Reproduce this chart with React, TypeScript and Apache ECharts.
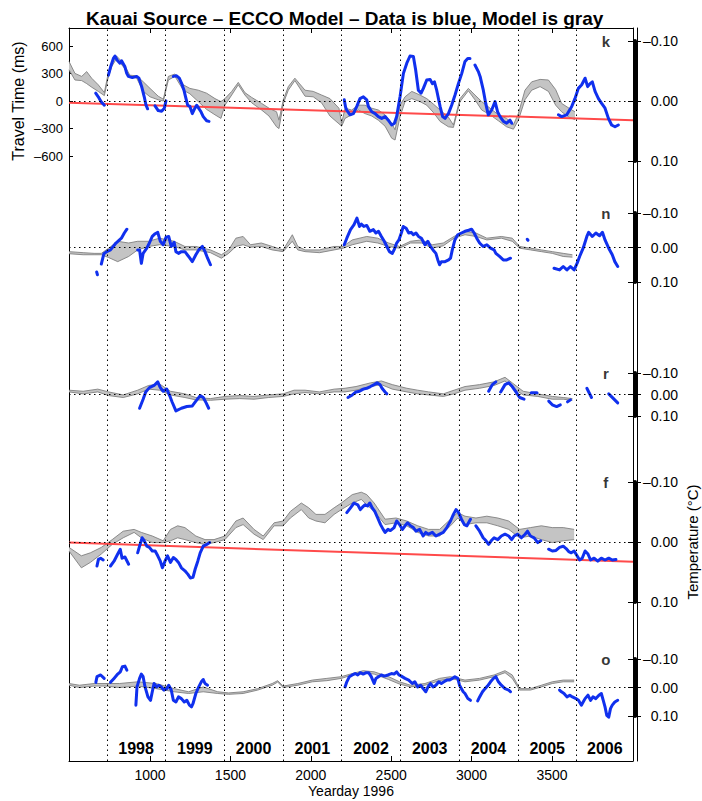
import React, { useEffect, useRef } from 'react';
import * as echarts from 'echarts';

const X_MIN = 496;
const X_MAX = 4004;
const yearStarts = [731, 1096, 1461, 1827, 2192, 2557, 2922, 3288, 3653];
const yearLabels = ['1998', '1999', '2000', '2001', '2002', '2003', '2004', '2005', '2006'];
const xTicks = [1000, 1500, 2000, 2500, 3000, 3500];
const travelTicks = [-600, -300, 0, 300, 600];
const panelLetters = ['k', 'n', 'r', 'f', 'o'];

// ---- panel k ----
const kModel = [[496,-0.066,-0.052],[533,-0.046,-0.035],[575,-0.041,-0.034],[606,-0.049,-0.029],[637,-0.038,-0.023],[678,-0.027,-0.016],[716,-0.014,-0.009],[736,-0.041,-0.035],[761,-0.063,-0.057],[792,-0.075,-0.071],[834,-0.063,-0.057],[875,-0.043,-0.041],[917,-0.042,-0.038],[958,-0.032,-0.016],[1000,-0.021,-0.007],[1051,-0.008,-0.002],[1083,-0.003,0],[1114,-0.041,-0.035],[1155,-0.045,-0.041],[1207,-0.027,-0.018],[1248,-0.021,-0.012],[1300,-0.018,0.001],[1352,-0.013,0.014],[1404,-0.004,0.023],[1441,0.001,0.029],[1466,-0.004,0.007],[1508,-0.016,-0.01],[1549,-0.031,-0.027],[1590,-0.014,-0.01],[1632,-0.006,0.003],[1694,0.004,0.015],[1740,0.012,0.025],[1787,0.018,0.043],[1802,0.032,0.046],[1829,-0.002,0.004],[1860,-0.024,-0.018],[1901,-0.038,-0.034],[1964,-0.018,-0.008],[2015,-0.016,-0.007],[2067,-0.01,0.003],[2119,-0.004,0.025],[2175,0.012,0.038],[2192,0.037,0.042],[2213,0.012,0.029],[2254,0.015,0.023],[2296,0.007,0.015],[2337,0.007,0.021],[2379,0.012,0.025],[2420,0.015,0.032],[2462,0.023,0.042],[2503,0.037,0.062],[2524,0.048,0.065],[2555,0.007,0.026],[2586,-0.007,0.001],[2628,-0.016,-0.004],[2679,-0.01,0.001],[2721,-0.004,0.007],[2762,0.005,0.019],[2804,0.015,0.034],[2856,0.027,0.043],[2887,0.04,0.044],[2928,-0.004,0.001],[2980,-0.021,-0.017],[3021,-0.01,-0.002],[3063,0.001,0.015],[3115,0.012,0.023],[3167,0.023,0.033],[3218,0.029,0.043],[3260,0.04,0.047],[3291,0.021,0.032],[3332,-0.018,-0.002],[3374,-0.032,-0.018],[3426,-0.036,-0.024],[3478,-0.035,-0.016],[3523,-0.019,0.007],[3560,0.004,0.018],[3606,0.012,0.027],[3643,0.018,0.031]];
const kData = [
  [[662,-0.013],[678,-0.007],[695,0.001],[716,0.007]],
  [[741,-0.043],[755,-0.057],[772,-0.071],[782,-0.075],[796,-0.068],[813,-0.063],[823,-0.067],[844,-0.057],[855,-0.046],[865,-0.041],[890,-0.039],[917,-0.041],[931,-0.038],[948,-0.024],[964,-0.007],[975,0.007],[985,0.013]],
  [[1031,0.008],[1051,0.016],[1072,0.017],[1089,0.012],[1099,0]],
  [[1145,-0.041],[1165,-0.042],[1182,-0.038],[1197,-0.029],[1211,-0.018],[1221,-0.007],[1234,0.007],[1248,0.009],[1263,0.021],[1279,0.012],[1290,0.007],[1300,0.011],[1317,0.018],[1331,0.026],[1352,0.033],[1367,0.034]],
  [[2208,-0.002],[2216,0.01],[2223,0.015],[2244,0.023],[2265,0.021],[2286,0.009],[2306,-0.004],[2327,-0.007],[2348,-0.002],[2358,0.009],[2379,0.018],[2400,0.021],[2420,0.026],[2441,0.029],[2462,0.026],[2482,0.032],[2503,0.04],[2520,0.037],[2534,0.026],[2555,-0.007],[2576,-0.046],[2597,-0.063],[2617,-0.075],[2638,-0.074],[2652,-0.052],[2669,-0.018],[2686,-0.013],[2700,-0.021],[2721,-0.035],[2742,-0.036],[2756,-0.029],[2769,-0.032],[2783,-0.018],[2804,0.009],[2820,0.026],[2835,0.029],[2856,0.021],[2876,0.007],[2897,-0.01],[2918,-0.029],[2939,-0.046],[2959,-0.066],[2976,-0.071],[2990,-0.071]],
  [[3021,-0.06],[3042,-0.049],[3053,-0.041],[3073,-0.018],[3088,0.004],[3104,0.023],[3125,0.015],[3146,0.001],[3162,0.018],[3177,0.026],[3198,0.034],[3218,0.037],[3239,0.032],[3250,0.037]],
  [[3540,0.023],[3560,0.026],[3592,0.023],[3623,0.009],[3643,-0.004],[3664,-0.021],[3685,-0.027],[3706,-0.038],[3722,-0.024],[3737,-0.029],[3751,-0.032],[3768,-0.016],[3789,-0.004],[3809,0.004],[3830,0.012],[3851,0.029],[3871,0.04],[3892,0.043],[3913,0.04]],
];
const kTrend = [[496,0.003],[4004,0.032]];

// ---- panel n ----
const nModel = [[496,0.012,0.018],[584,0.015,0.021],[652,0.017,0.021],[697,0.017,0.021],[742,0.002,0.029],[799,-0.018,0.041],[867,-0.013,0.026],[923,-0.018,0.007],[991,-0.018,-0.003],[1059,-0.027,-0.008],[1150,-0.018,-0.003],[1217,-0.003,0.007],[1285,-0.003,0.007],[1376,0.007,0.015],[1444,0.021,0.031],[1489,0.007,0.017],[1534,-0.027,-0.003],[1579,-0.032,-0.008],[1625,-0.008,-0.001],[1692,-0.013,-0.003],[1760,-0.003,0.007],[1828,0.007,0.012],[1885,-0.037,-0.018],[1919,-0.003,0.007],[1964,0.007,0.012],[2054,0.007,0.015],[2145,-0.003,0.007],[2201,-0.003,0.002],[2258,-0.022,-0.008],[2348,-0.032,-0.018],[2416,-0.027,-0.013],[2484,-0.013,-0.003],[2552,-0.003,0.002],[2620,-0.018,-0.013],[2688,-0.022,-0.013],[2756,-0.008,0.002],[2824,-0.013,-0.005],[2891,-0.032,-0.027],[2959,-0.047,-0.037],[3027,-0.042,-0.032],[3095,-0.027,-0.022],[3185,-0.032,-0.027],[3253,-0.027,-0.018],[3299,-0.003,0.002],[3367,0.002,0.007],[3434,0.007,0.012],[3502,0.012,0.017],[3570,0.017,0.026],[3627,0.021,0.028]];
const nData = [
  [[668,0.071],[673,0.079]],
  [[697,0.048],[713,0.018],[731,0.012],[754,0.007],[788,-0.013],[822,-0.027],[840,-0.042],[856,-0.053]],
  [[923,0.007],[935,0.007],[946,0.046],[957,0.017],[980,0.002],[996,-0.013],[1014,-0.032],[1032,-0.04],[1048,-0.044],[1064,-0.018],[1082,-0.008],[1100,-0.03],[1116,-0.032],[1132,-0.003],[1150,-0.015],[1161,0.012],[1177,0.017],[1195,0.012],[1217,0.012],[1240,0.026],[1263,0.041],[1285,0.021],[1303,0.007],[1326,-0.003],[1342,0.012],[1358,0.031],[1376,0.05]],
  [[2208,-0.008],[2224,-0.027],[2247,-0.052],[2269,-0.066],[2287,-0.085],[2303,-0.061],[2314,-0.068],[2330,-0.061],[2348,-0.064],[2367,-0.047],[2389,-0.052],[2405,-0.042],[2421,-0.047],[2439,-0.032],[2457,-0.018],[2473,-0.003],[2489,0.012],[2507,0.017],[2518,0.007],[2534,-0.013],[2548,-0.022],[2563,-0.042],[2575,-0.061],[2593,-0.056],[2609,-0.042],[2624,-0.044],[2638,-0.037],[2654,-0.042],[2670,-0.032],[2688,-0.027],[2710,-0.008],[2728,-0.018],[2744,-0.003],[2760,0.007],[2778,0.017],[2790,0.036],[2801,0.05],[2812,0.041],[2835,0.041],[2857,0.036],[2869,0.031],[2880,0.007],[2896,-0.022],[2914,-0.037],[2937,-0.042],[2959,-0.047],[2982,-0.05],[3000,-0.053],[3016,-0.042],[3032,-0.027],[3050,-0.013],[3072,-0.003],[3095,-0.008],[3118,0.002],[3140,0.007],[3151,0.017],[3174,0.026],[3197,0.036],[3219,0.036],[3242,0.031]],
  [[3346,-0.024],[3351,-0.021]],
  [[3513,0.06],[3547,0.065],[3570,0.055],[3593,0.065],[3615,0.055],[3638,0.065],[3656,0.046],[3672,0.026],[3694,0.002],[3717,-0.032],[3728,-0.044],[3751,-0.032],[3773,-0.042],[3796,-0.034],[3814,-0.044],[3830,-0.022],[3853,0.002],[3875,0.021],[3891,0.041],[3909,0.055]],
];

// ---- panel r ----
const rModel = [[496,-0.02,-0.012],[584,-0.015,-0.003],[675,-0.025,-0.012],[742,-0.012,0.005],[833,0.002,0.014],[923,-0.02,-0.003],[991,-0.042,-0.025],[1059,-0.049,-0.02],[1127,-0.015,0.002],[1217,-0.003,0.014],[1285,0.014,0.025],[1376,0.019,0.027],[1466,0.009,0.022],[1557,0.005,0.019],[1647,0.009,0.022],[1738,0.002,0.014],[1828,-0.003,0.009],[1896,-0.02,-0.003],[1964,-0.02,-0.009],[2054,-0.012,-0.003],[2145,-0.025,-0.012],[2213,-0.029,-0.012],[2281,-0.037,-0.02],[2371,-0.054,-0.037],[2439,-0.063,-0.046],[2507,-0.046,-0.025],[2597,-0.029,-0.012],[2665,-0.02,-0.003],[2733,-0.012,0.002],[2824,-0.003,0.009],[2891,-0.02,-0.003],[2959,-0.037,-0.02],[3050,-0.046,-0.029],[3140,-0.059,-0.042],[3208,-0.08,-0.063],[3253,-0.054,-0.032],[3321,-0.015,0.002],[3412,-0.003,0.009],[3502,0.009,0.022],[3570,0.014,0.022],[3627,0.019,0.027]];
const rData = [
  [[935,0.064],[957,0.022],[973,-0.012],[996,-0.032],[1025,-0.042],[1048,-0.059],[1064,-0.032],[1082,-0.015],[1104,-0.025],[1122,0.005],[1138,0.036],[1161,0.076],[1195,0.064],[1229,0.056],[1263,0.053],[1285,0.031],[1312,0.005],[1331,0.014],[1349,0.039],[1365,0.064]],
  [[2231,0.014],[2258,0.002],[2281,-0.012],[2303,-0.015],[2326,-0.025],[2348,-0.029],[2371,-0.037],[2394,-0.046],[2412,-0.054],[2430,-0.046],[2443,-0.029],[2462,-0.012],[2473,-0.003]],
  [[3106,-0.015],[3129,-0.046],[3151,-0.059]],
  [[3181,-0.012],[3208,-0.046],[3231,-0.054],[3253,-0.037],[3276,-0.012],[3299,0.014],[3326,0.022]],
  [[3371,-0.008],[3407,-0.008]],
  [[3480,0.031],[3502,0.048],[3529,0.056],[3552,0.048]],
  [[3597,0.034],[3615,0.025]],
  [[3717,-0.029],[3746,0.014]],
  [[3853,-0.003],[3909,0.039]],
];

// ---- panel f ----
const fModel = [[496,0.009,0.015],[573,0.023,0.043],[629,0.018,0.034],[697,0.009,0.02],[765,-0.004,0.004],[833,-0.018,-0.007],[901,-0.021,-0.016],[946,-0.016,-0.007],[1014,-0.01,0.001],[1082,-0.002,0.001],[1127,-0.021,-0.002],[1172,-0.027,-0.007],[1217,-0.024,-0.004],[1285,-0.01,0.001],[1342,-0.004,0.004],[1398,-0.004,0.001],[1466,-0.01,-0.004],[1534,-0.035,-0.024],[1579,-0.04,-0.029],[1647,-0.021,-0.013],[1704,-0.01,-0.004],[1772,-0.032,-0.027],[1828,-0.035,-0.027],[1873,-0.051,-0.04],[1941,-0.065,-0.054],[1987,-0.057,-0.04],[2032,-0.046,-0.035],[2088,-0.046,-0.032],[2145,-0.057,-0.046],[2190,-0.065,-0.054],[2258,-0.079,-0.065],[2314,-0.083,-0.071],[2348,-0.079,-0.062],[2394,-0.065,-0.051],[2462,-0.038,-0.029],[2530,-0.04,-0.032],[2597,-0.035,-0.027],[2665,-0.027,-0.016],[2733,-0.021,-0.01],[2801,-0.021,-0.01],[2869,-0.038,-0.027],[2914,-0.049,-0.04],[2959,-0.043,-0.029],[3027,-0.04,-0.032],[3095,-0.043,-0.032],[3163,-0.04,-0.027],[3231,-0.035,-0.021],[3299,-0.021,-0.007],[3366,-0.024,-0.01],[3434,-0.027,-0.004],[3502,-0.024,0.001],[3570,-0.024,-0.002],[3638,-0.021,-0.004]];
const fData = [
  [[670,0.04],[679,0.029],[693,0.027],[709,0.03]],
  [[754,0.04],[776,0.032],[799,0.02],[815,0.012],[826,0.027],[844,0.025],[867,0.037]],
  [[923,0.018],[935,0.007],[951,-0.007],[964,-0.002],[980,0.007],[996,0.009],[1014,0.015],[1032,0.015],[1048,0.023],[1064,0.032],[1077,0.043],[1093,0.032],[1109,0.023],[1127,0.034],[1145,0.026],[1161,0.029],[1177,0.034],[1195,0.043],[1217,0.048],[1236,0.054],[1251,0.06],[1267,0.059],[1281,0.045],[1297,0.032],[1312,0.018],[1331,0.007],[1353,0.004],[1371,0.001]],
  [[2224,-0.049],[2247,-0.057],[2269,-0.065],[2292,-0.062],[2308,-0.054],[2321,-0.058],[2337,-0.062],[2353,-0.06],[2367,-0.065],[2382,-0.057],[2398,-0.051],[2416,-0.04],[2434,-0.029],[2450,-0.021],[2462,-0.016],[2480,-0.021],[2495,-0.019],[2518,-0.024],[2534,-0.035],[2552,-0.029],[2570,-0.021],[2586,-0.027],[2602,-0.032],[2620,-0.027],[2638,-0.024],[2654,-0.018],[2677,-0.021],[2699,-0.01],[2715,-0.016],[2733,-0.013],[2756,-0.016],[2778,-0.01],[2801,-0.013],[2824,-0.016],[2846,-0.024],[2869,-0.035],[2887,-0.046],[2903,-0.054],[2919,-0.049],[2937,-0.038],[2955,-0.029],[2971,-0.027],[2993,-0.038]],
  [[3027,-0.027],[3050,-0.018],[3072,-0.007],[3090,-0.002],[3106,0.004],[3122,-0.002],[3140,-0.007],[3163,-0.004],[3185,-0.01],[3208,-0.013],[3231,-0.01],[3249,-0.004],[3265,-0.01],[3287,-0.013],[3310,-0.007],[3333,-0.013],[3348,-0.018],[3366,-0.01],[3389,-0.007],[3412,0.001],[3430,-0.002]],
  [[3479,0.012],[3502,0.015],[3525,0.014],[3547,0.009],[3570,0.007],[3588,0.011],[3604,0.016],[3620,0.018],[3638,0.015],[3656,0.023],[3672,0.03],[3688,0.027],[3706,0.015],[3724,0.02],[3740,0.03],[3762,0.027],[3785,0.032],[3807,0.027],[3830,0.03],[3853,0.027],[3875,0.03],[3898,0.029]],
];
const fTrend = [[496,0.001],[4004,0.033]];

// ---- panel o ----
const oModel = [[496,-0.014,-0.008],[561,-0.008,0],[652,-0.014,-0.005],[720,-0.014,-0.005],[810,-0.014,0],[923,-0.02,-0.005],[1037,-0.014,0.004],[1150,0.004,0.015],[1240,0.015,0.021],[1331,-0.002,0.015],[1421,0.015,0.021],[1489,0.019,0.024],[1579,0.015,0.021],[1670,0.004,0.009],[1760,-0.014,-0.008],[1794,-0.024,-0.019],[1828,-0.005,0],[1919,-0.014,-0.008],[2009,-0.026,-0.02],[2100,-0.032,-0.024],[2190,-0.038,-0.032],[2258,-0.049,-0.044],[2326,-0.059,-0.052],[2394,-0.055,-0.047],[2484,-0.038,-0.028],[2552,-0.02,-0.012],[2620,-0.008,-0.002],[2710,-0.014,-0.008],[2801,-0.032,-0.024],[2869,-0.038,-0.032],[2959,-0.026,-0.02],[3050,-0.032,-0.026],[3140,-0.044,-0.038],[3208,-0.059,-0.052],[3253,-0.044,-0.032],[3299,0.004,0.009],[3366,0.004,0.009],[3434,-0.008,-0.002],[3502,-0.02,-0.014],[3570,-0.026,-0.02],[3638,-0.026,-0.02]];
const oData = [
  [[663,-0.018],[670,-0.038],[693,-0.044],[715,-0.032]],
  [[754,-0.018],[776,-0.032],[799,-0.047],[815,-0.055],[828,-0.073],[844,-0.075],[856,-0.061]],
  [[912,0.062],[919,-0.002],[935,-0.032],[946,-0.047],[957,-0.038],[969,-0.002],[987,0.033],[1003,0.045],[1014,0.015],[1025,-0.014],[1041,-0.002],[1055,-0.008],[1070,-0.002],[1086,0.009],[1104,0.004],[1116,-0.008],[1132,0.009],[1145,0.045],[1161,0.051],[1177,0.033],[1195,0.039],[1213,0.051],[1229,0.045],[1245,0.062],[1258,0.068],[1267,0.057],[1285,0.021],[1303,-0.002],[1319,-0.02],[1331,-0.028],[1342,-0.014],[1358,-0.008]],
  [[2213,-0.002],[2224,-0.02],[2240,-0.038],[2258,-0.044],[2276,-0.049],[2292,-0.044],[2308,-0.052],[2326,-0.047],[2344,-0.052],[2360,-0.052],[2376,-0.038],[2394,-0.014],[2405,-0.032],[2421,-0.038],[2439,-0.044],[2457,-0.04],[2480,-0.044],[2502,-0.049],[2518,-0.047],[2534,-0.055],[2548,-0.044],[2563,-0.04],[2586,-0.032],[2609,-0.026],[2631,-0.014],[2647,-0.02],[2665,-0.002],[2683,-0.008],[2699,0.004],[2715,0.015],[2729,-0.002],[2744,-0.014],[2760,-0.002],[2778,-0.008],[2796,-0.02],[2812,-0.014],[2828,-0.02],[2846,-0.026],[2864,-0.026],[2880,-0.032],[2896,-0.038],[2914,-0.032],[2925,-0.008],[2937,0.004],[2948,0.015],[2959,0.021],[2977,0.039],[2993,0.045]],
  [[3038,0.047],[3050,0.033],[3068,0.015],[3084,0.004],[3099,-0.005],[3118,-0.02],[3136,-0.032],[3151,-0.038],[3167,-0.02],[3185,-0.008],[3208,0.004],[3231,0.009],[3242,0.015]],
  [[3547,0.009],[3559,0.015],[3575,0.021],[3593,0.033],[3611,0.027],[3627,0.033],[3649,0.039],[3665,0.045],[3683,0.062],[3694,0.051],[3706,0.039],[3724,0.027],[3740,0.045],[3755,0.033],[3773,0.039],[3792,0.027],[3807,0.021],[3819,0.045],[3830,0.068],[3841,0.098],[3853,0.104],[3864,0.074],[3875,0.062],[3891,0.051],[3909,0.045]],
];

// ---------- layout / styles (not data) ----------
const FONT = '"Liberation Sans", Arial, Helvetica, sans-serif';
const PLOT = { left: 69, right: 69, top: 28, bottom: 40 };
const panelBoxes = [
  { top: 41, height: 120 },
  { top: 213, height: 69 },
  { top: 373, height: 43 },
  { top: 482, height: 120 },
  { top: 659, height: 57 },
];
const LETTER_X = 3835;
const BLUE = '#1030ee';
const GRAY = '#808080';
const BAND = '#c4c4c4';
const RED = '#ff4a4a';

const panels = [
  { model: kModel, data: kData, trend: kTrend },
  { model: nModel, data: nData, trend: null },
  { model: rModel, data: rData, trend: null },
  { model: fModel, data: fData, trend: fTrend },
  { model: oModel, data: oData, trend: null },
];

const dash = (v: number, d: number) => {
  if (Math.abs(v) < 1e-9) return (0).toFixed(d);
  return v < 0 ? '\u2013' + Math.abs(v).toFixed(d) : v.toFixed(d);
};

function buildOption(): any {
  const yearMids = yearStarts.map((s, i) => (s + (i + 1 < yearStarts.length ? yearStarts[i + 1] : X_MAX)) / 2);
  const yearFmt = (v: number) => {
    let best = 0;
    yearMids.forEach((m, i) => { if (Math.abs(m - v) < Math.abs(yearMids[best] - v)) best = i; });
    return yearLabels[best];
  };
  const black = { color: '#000', width: 1 };
  const gridBase = { left: PLOT.left, right: PLOT.right, outerBoundsMode: 'none', containLabel: false };

  const grid: any[] = [{ ...gridBase, top: PLOT.top, bottom: PLOT.bottom }];
  panelBoxes.forEach((b) => grid.push({ ...gridBase, top: b.top, height: b.height }));
  grid.push({ ...gridBase, top: 46, height: 110 });
  const ttGrid = grid.length - 1;

  const xAxis: any[] = [
    {
      gridIndex: 0, type: 'value', min: X_MIN, max: X_MAX, position: 'bottom',
      axisLine: { show: true, onZero: false, lineStyle: black },
      axisTick: { show: true, inside: true, length: 5, customValues: xTicks, lineStyle: black },
      axisLabel: { show: true, customValues: xTicks, formatter: (v: number) => String(v), fontSize: 14, color: '#000', margin: 7, fontFamily: FONT },
      splitLine: { show: false },
      name: 'Yearday 1996', nameLocation: 'middle', nameGap: 23, nameMoveOverlap: false,
      nameTextStyle: { fontSize: 14, color: '#000', fontFamily: FONT },
    },
    {
      gridIndex: 0, type: 'value', min: X_MIN, max: X_MAX, position: 'top',
      axisLine: { show: true, onZero: false, lineStyle: black },
      axisTick: { show: true, inside: true, length: 5, customValues: xTicks, lineStyle: black },
      axisLabel: { show: false }, splitLine: { show: false },
    },
    {
      gridIndex: 0, type: 'value', min: X_MIN, max: X_MAX, position: 'bottom',
      axisLine: { show: false, onZero: false }, axisTick: { show: false },
      axisLabel: { show: true, inside: true, customValues: yearMids, formatter: yearFmt, fontSize: 16, fontWeight: 'bold', color: '#000', margin: 5, fontFamily: FONT },
      splitLine: { show: false },
    },
  ];
  const yAxis: any[] = [
    { gridIndex: 0, type: 'value', min: 0, max: 1, position: 'left', axisLine: { show: true, onZero: false, lineStyle: black }, axisTick: { show: false }, axisLabel: { show: false }, splitLine: { show: false } },
    { gridIndex: 0, type: 'value', min: 0, max: 1, position: 'right', axisLine: { show: true, onZero: false, lineStyle: black }, axisTick: { show: false }, axisLabel: { show: false }, splitLine: { show: false } },
    { gridIndex: 0, type: 'value', min: 0, max: 1, position: 'right', offset: 4, axisLine: { show: true, onZero: false, lineStyle: black }, axisTick: { show: false }, axisLabel: { show: false }, splitLine: { show: false } },
  ];

  const series: any[] = [
    {
      type: 'line', xAxisIndex: 0, yAxisIndex: 0, data: [[X_MIN, 0.5]], symbol: 'none', z: 1, silent: true,
      lineStyle: { opacity: 0 },
      markLine: {
        symbol: 'none', silent: true, animation: false, label: { show: false },
        lineStyle: { color: '#000', width: 1, type: [1.5, 3.5] },
        data: yearStarts.map((v) => ({ xAxis: v })),
      },
    },
  ];

  panels.forEach((p, i) => {
    const gi = i + 1;
    const xi = xAxis.length;
    xAxis.push({ gridIndex: gi, type: 'value', min: X_MIN, max: X_MAX, show: false });
    const yi = yAxis.length;
    yAxis.push({
      gridIndex: gi, type: 'value', min: -0.1, max: 0.1, interval: 0.1, inverse: true, position: 'right', offset: 2,
      axisLine: { show: true, onZero: false, lineStyle: { color: '#000', width: 4 } },
      axisTick: { show: true, length: 6, lineStyle: black },
      axisLabel: { show: true, formatter: (v: number) => dash(v, 2), fontSize: 14, color: '#000', align: 'right', margin: 43, fontFamily: FONT },
      splitLine: { show: false },
      ...(i === 3 ? { name: 'Temperature (\u00B0C)', nameLocation: 'middle', nameGap: 50, nameMoveOverlap: false, nameTextStyle: { fontSize: 15, color: '#000', fontFamily: FONT } } : {}),
    });
    yAxis.push({
      gridIndex: gi, type: 'value', min: -0.1, max: 0.1, interval: 0.1, inverse: true, position: 'right', offset: 2,
      axisLine: { show: false, onZero: false },
      axisTick: { show: true, inside: true, length: 7, lineStyle: black },
      axisLabel: { show: false }, splitLine: { show: false },
    });
    const common = { xAxisIndex: xi, yAxisIndex: yi, silent: true, animation: false };
    const model = p.model;
    series.push({
      ...common, type: 'custom', z: 1, clip: false,
      data: model, encode: { x: 0, y: [1, 2] },
      renderItem: (params: any, api: any) => {
        if (params.dataIndex !== 0) return null;
        const upper = model.map((m) => api.coord([m[0], m[1]]));
        const lower = model.slice().reverse().map((m) => api.coord([m[0], m[2]]));
        return { type: 'polygon', shape: { points: upper.concat(lower) }, style: { fill: BAND } };
      },
    });
    series.push({
      ...common, type: 'line', symbol: 'none', data: model.map((m) => [m[0], m[1]]), lineStyle: { color: GRAY, width: 0.9 }, z: 2,
      markLine: {
        symbol: 'none', silent: true, animation: false, label: { show: false },
        lineStyle: { color: '#000', width: 1, type: [1.5, 3.5] }, data: [{ yAxis: 0 }],
      },
    });
    series.push({ ...common, type: 'line', symbol: 'none', data: model.map((m) => [m[0], m[2]]), lineStyle: { color: GRAY, width: 0.9 }, z: 2 });
    p.data.forEach((seg) => {
      series.push({ ...common, type: 'line', symbol: 'none', data: seg, clip: false, lineStyle: { color: BLUE, width: 3, join: 'round', cap: 'round' }, z: 4 });
    });
    if (p.trend) {
      series.push({ ...common, type: 'line', symbol: 'none', data: p.trend, lineStyle: { color: RED, width: 2 }, z: 3 });
    }
    series.push({
      type: 'scatter', xAxisIndex: xi, yAxisIndex: yi, data: [[LETTER_X, -0.1]], symbolSize: 1, silent: true,
      itemStyle: { color: 'rgba(0,0,0,0)' }, z: 10,
      label: { show: true, position: 'inside', formatter: panelLetters[i], fontSize: 15, fontWeight: 'bold', color: '#000', fontFamily: FONT },
    });
  });

  const ttX = xAxis.length;
  xAxis.push({ gridIndex: ttGrid, type: 'value', min: X_MIN, max: X_MAX, show: false });
  const ttY = yAxis.length;
  yAxis.push({
    gridIndex: ttGrid, type: 'value', min: -600, max: 600, interval: 300, position: 'left',
    axisLine: { show: false, onZero: false },
    axisTick: { show: true, inside: true, length: 4, lineStyle: black },
    axisLabel: { show: true, fontSize: 13, color: '#000', margin: 6, formatter: (v: number) => (travelTicks.includes(v) ? dash(v, 0) : ''), fontFamily: FONT },
    splitLine: { show: false },
    name: 'Travel Time (ms)', nameLocation: 'middle', nameGap: 43, nameMoveOverlap: false,
    nameTextStyle: { fontSize: 16, color: '#000', fontFamily: FONT },
  });
  series.push({ type: 'line', xAxisIndex: ttX, yAxisIndex: ttY, data: [], silent: true });

  return {
    animation: false,
    backgroundColor: '#fff',
    textStyle: { fontFamily: FONT },
    title: {
      text: 'Kauai Source \u2013 ECCO Model \u2013 Data is blue, Model is gray',
      left: 86, top: 9, padding: 0,
      textStyle: { fontSize: 19, fontWeight: 'bold', color: '#000', fontFamily: FONT },
    },
    grid, xAxis, yAxis, series,
  };
}

export default function App() {
  const ref = useRef<HTMLDivElement>(null);
  useEffect(() => {
    const chart = echarts.init(ref.current as HTMLDivElement, null, { renderer: 'svg' });
    chart.setOption(buildOption());
    return () => chart.dispose();
  }, []);
  return <div ref={ref} style={{ position: 'absolute', left: 0, top: 0, width: 702, height: 801, background: '#fff' }} />;
}
